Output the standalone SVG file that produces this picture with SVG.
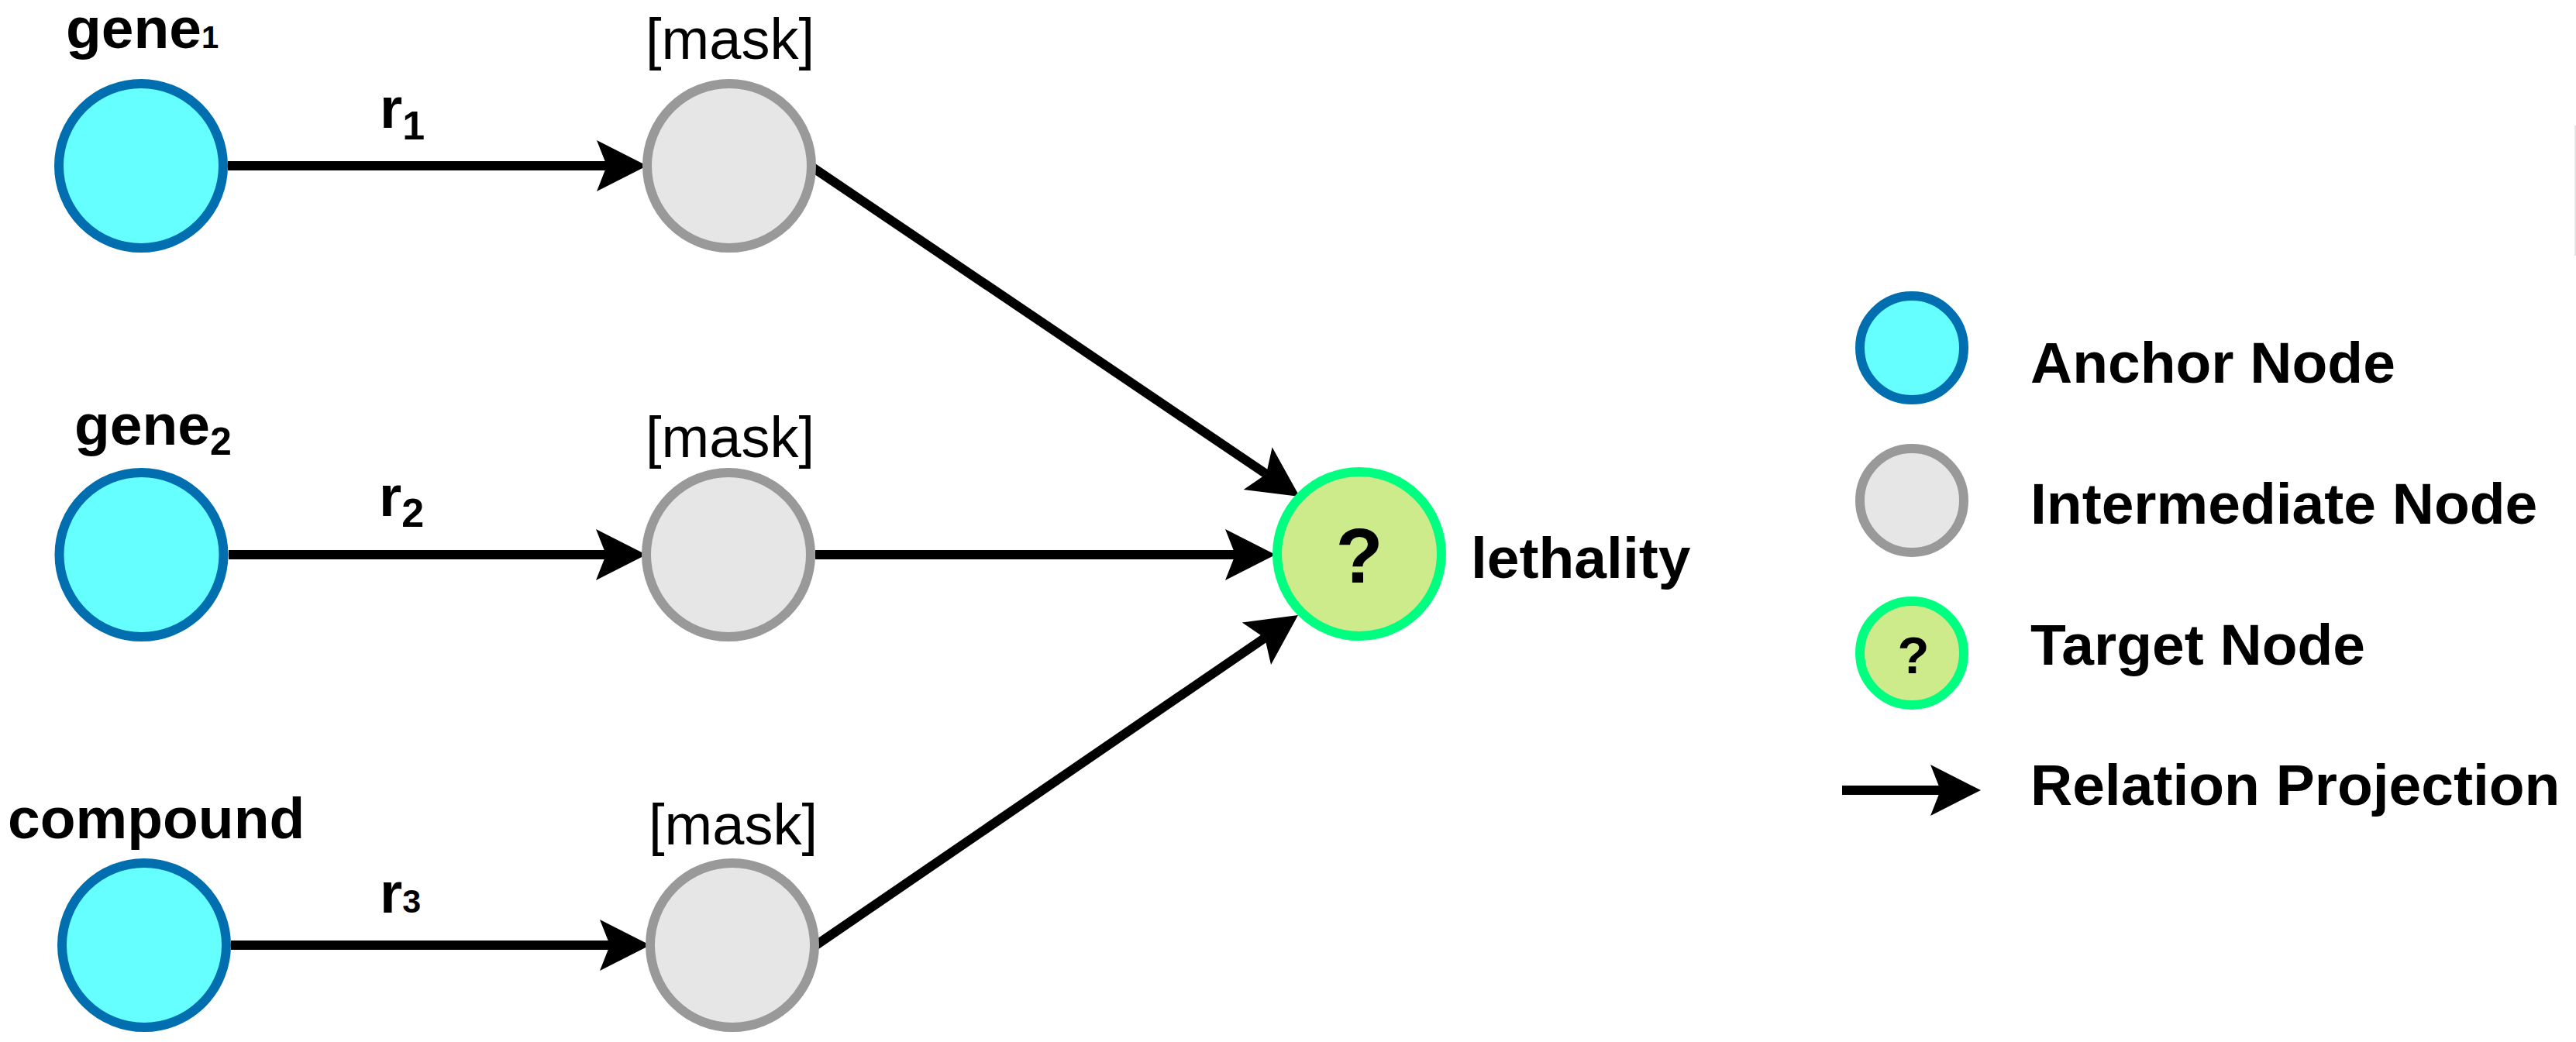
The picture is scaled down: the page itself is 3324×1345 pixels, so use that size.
<svg xmlns="http://www.w3.org/2000/svg" width="3324" height="1345" viewBox="0 0 3324 1345">
  <style>
    text { font-family: "Liberation Sans", Arial, Helvetica, sans-serif; fill: #000000; }
    .b { font-weight: bold; }
    .lbl { font-size: 75px; font-weight: bold; }
    .mask { font-size: 74px; font-weight: normal; text-anchor: middle; }
    .anchor { fill: #66FFFF; stroke: #006EAF; stroke-width: 12; }
    .inter { fill: #E6E6E6; stroke: #999999; stroke-width: 12; }
    .target { fill: #CDEB8B; stroke: #00FF80; stroke-width: 12; }
    .edge { fill: none; stroke: #000000; stroke-width: 12; stroke-linecap: butt; marker-end: url(#arrow); }
  </style>
  <defs>
    <marker id="arrow" markerUnits="userSpaceOnUse" markerWidth="66" markerHeight="66" refX="13" refY="33" orient="auto" overflow="visible">
      <path d="M0,0 L65,33 L0,66 L13,33 Z" fill="#000000"/>
    </marker>
  </defs>
  <rect x="0" y="0" width="3324" height="1345" fill="#FFFFFF"/>

  <g id="connectors">
    <path id="e-gene1-mask1" class="edge" d="M294,214 L783,214"/>
    <path id="e-gene2-mask2" class="edge" d="M295,716 L782,716"/>
    <path id="e-compound-mask3" class="edge" d="M298,1220 L787,1220"/>
    <path id="e-mask1-target" class="edge" d="M1047,215 L1633.9,611.9"/>
    <path id="e-mask2-target" class="edge" d="M1052,716 L1594,716"/>
    <path id="e-mask3-target" class="edge" d="M1053,1220 L1632.1,823.4"/>
  </g>

  <g id="edge-labels">
    <text x="490" y="165" class="lbl">r<tspan font-size="52" y="180">1</tspan></text>
    <text x="489" y="666" class="lbl">r<tspan font-size="52" y="680">2</tspan></text>
    <text x="490" y="1178" class="lbl">r<tspan font-size="43">3</tspan></text>
  </g>

  <g id="node-gene1">
    <circle cx="182" cy="214" r="106" class="anchor"/>
    <text x="85" y="62" class="lbl">gene<tspan font-size="40">1</tspan></text>
  </g>
  <g id="node-gene2">
    <circle cx="182.5" cy="716" r="106" class="anchor"/>
    <text x="96" y="574" class="lbl">gene<tspan font-size="50" y="587">2</tspan></text>
  </g>
  <g id="node-compound">
    <circle cx="186" cy="1220" r="106" class="anchor"/>
    <text x="10" y="1082" class="lbl">compound</text>
  </g>

  <g id="node-mask1">
    <circle cx="941" cy="214" r="106" class="inter"/>
    <text x="942" y="76" class="mask">[mask]</text>
  </g>
  <g id="node-mask2">
    <circle cx="940" cy="716" r="106" class="inter"/>
    <text x="942" y="590" class="mask">[mask]</text>
  </g>
  <g id="node-mask3">
    <circle cx="945" cy="1220" r="106" class="inter"/>
    <text x="946" y="1090" class="mask">[mask]</text>
  </g>

  <g id="node-target">
    <circle cx="1754" cy="715" r="106" class="target"/>
    <text x="1754" y="752" font-size="100" class="b" text-anchor="middle">?</text>
    <text x="1898" y="746" class="lbl">lethality</text>
  </g>

  <g id="legend">
    <g id="legend-anchor">
      <circle cx="2467" cy="449" r="67" class="anchor"/>
      <text x="2620" y="494" class="lbl">Anchor Node</text>
    </g>
    <g id="legend-intermediate">
      <circle cx="2467" cy="646" r="67" class="inter"/>
      <text x="2620" y="676" class="lbl">Intermediate Node</text>
    </g>
    <g id="legend-target">
      <circle cx="2467" cy="843" r="67" class="target"/>
      <text x="2469" y="869" font-size="67" class="b" text-anchor="middle">?</text>
      <text x="2620" y="858" class="lbl">Target Node</text>
    </g>
    <g id="legend-relation">
      <path class="edge" d="M2377,1020 L2504,1020"/>
      <text x="2620" y="1039" class="lbl">Relation Projection</text>
    </g>
  </g>

  <rect x="3322" y="162" width="2" height="168" fill="#E6E6E6"/>
</svg>
